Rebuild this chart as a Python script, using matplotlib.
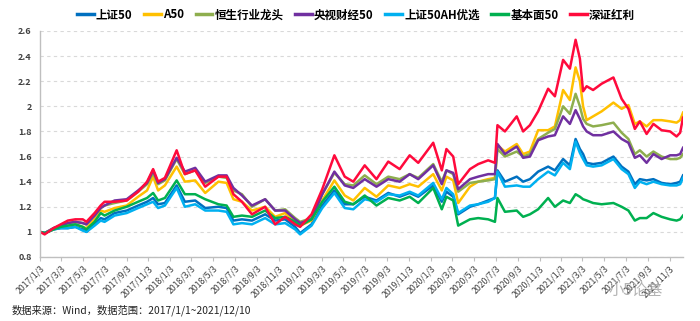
import datetime as dt
import matplotlib
matplotlib.use("Agg")
import matplotlib.pyplot as plt
from matplotlib.ticker import FuncFormatter, MultipleLocator

plt.rcParams['font.family'] = ['Noto Sans CJK SC', 'DejaVu Sans']

dates = [
    "2017-01-03", "2017-01-16", "2017-02-10", "2017-03-02", "2017-03-22", "2017-04-12",
    "2017-05-03", "2017-05-13", "2017-06-05", "2017-06-22", "2017-07-03", "2017-07-31",
    "2017-09-03", "2017-10-05", "2017-10-30", "2017-11-16", "2017-11-30", "2017-12-19",
    "2018-01-21", "2018-02-13", "2018-03-14", "2018-04-11", "2018-05-18", "2018-06-10",
    "2018-06-29", "2018-07-23", "2018-08-20", "2018-09-26", "2018-10-24", "2018-11-21",
    "2018-12-19", "2019-01-02", "2019-02-03", "2019-03-05", "2019-04-08", "2019-05-07",
    "2019-05-31", "2019-07-02", "2019-08-04", "2019-09-06", "2019-10-08", "2019-11-05",
    "2019-11-29", "2020-01-10", "2020-02-03", "2020-02-16", "2020-03-06", "2020-03-20",
    "2020-04-22", "2020-05-15", "2020-06-12", "2020-07-01", "2020-07-08", "2020-07-29",
    "2020-08-31", "2020-09-18", "2020-10-07", "2020-10-30", "2020-11-27", "2020-12-16",
    "2021-01-08", "2021-01-27", "2021-02-12", "2021-02-24", "2021-03-05", "2021-03-15",
    "2021-04-02", "2021-04-26", "2021-05-29", "2021-06-21", "2021-07-10", "2021-07-28",
    "2021-08-11", "2021-08-30", "2021-09-18", "2021-10-11", "2021-11-04", "2021-11-22",
    "2021-12-02", "2021-12-10",
]

sz50 = [1.00, 0.99, 1.02, 1.03, 1.03, 1.04, 1.02, 1.00, 1.06, 1.11, 1.10, 1.15,
        1.17, 1.21, 1.24, 1.27, 1.22, 1.23, 1.37, 1.24, 1.25, 1.19, 1.20, 1.19,
        1.09, 1.10, 1.09, 1.14, 1.09, 1.10, 1.04, 0.99, 1.06, 1.21, 1.33, 1.22,
        1.22, 1.28, 1.25, 1.31, 1.28, 1.31, 1.28, 1.37, 1.24, 1.32, 1.28, 1.14,
        1.20, 1.22, 1.25, 1.27, 1.49, 1.40, 1.44, 1.40, 1.42, 1.48, 1.52, 1.49,
        1.58, 1.53, 1.74, 1.66, 1.62, 1.55, 1.54, 1.55, 1.60, 1.52, 1.48, 1.38,
        1.42, 1.41, 1.42, 1.39, 1.38, 1.39, 1.40, 1.45]
a50 = [1.00, 0.99, 1.02, 1.04, 1.05, 1.06, 1.04, 1.03, 1.10, 1.17, 1.16, 1.19,
       1.21, 1.28, 1.33, 1.44, 1.33, 1.37, 1.52, 1.40, 1.41, 1.31, 1.40, 1.39,
       1.26, 1.24, 1.17, 1.20, 1.12, 1.15, 1.08, 1.05, 1.09, 1.25, 1.41, 1.29,
       1.25, 1.35, 1.28, 1.37, 1.35, 1.38, 1.36, 1.46, 1.33, 1.44, 1.41, 1.23,
       1.36, 1.40, 1.42, 1.43, 1.69, 1.64, 1.70, 1.62, 1.64, 1.81, 1.81, 1.84,
       2.13, 2.05, 2.31, 2.20, 2.00, 1.89, 1.92, 1.96, 2.03, 1.98, 2.01, 1.86,
       1.88, 1.84, 1.89, 1.89, 1.88, 1.87, 1.89, 1.95]
hs_leader = [1.00, 0.99, 1.03, 1.05, 1.07, 1.08, 1.07, 1.06, 1.13, 1.19, 1.21, 1.23,
             1.25, 1.32, 1.38, 1.47, 1.38, 1.41, 1.58, 1.46, 1.49, 1.39, 1.44, 1.43,
             1.33, 1.30, 1.20, 1.26, 1.17, 1.18, 1.11, 1.08, 1.11, 1.30, 1.47, 1.38,
             1.37, 1.45, 1.38, 1.44, 1.42, 1.46, 1.43, 1.54, 1.40, 1.49, 1.46, 1.32,
             1.39, 1.40, 1.41, 1.42, 1.66, 1.60, 1.64, 1.60, 1.62, 1.74, 1.79, 1.82,
             2.00, 1.94, 2.10, 2.00, 1.90, 1.86, 1.84, 1.85, 1.87, 1.79, 1.74, 1.62,
             1.65, 1.60, 1.64, 1.60, 1.58, 1.58, 1.59, 1.62]
cctv50 = [1.00, 0.99, 1.03, 1.05, 1.07, 1.08, 1.07, 1.06, 1.13, 1.19, 1.21, 1.25,
          1.26, 1.33, 1.39, 1.49, 1.39, 1.42, 1.59, 1.48, 1.51, 1.40, 1.45, 1.45,
          1.35, 1.29, 1.21, 1.26, 1.17, 1.17, 1.10, 1.07, 1.10, 1.30, 1.48, 1.37,
          1.35, 1.42, 1.36, 1.42, 1.40, 1.46, 1.42, 1.53, 1.38, 1.49, 1.47, 1.34,
          1.42, 1.44, 1.46, 1.46, 1.70, 1.62, 1.68, 1.59, 1.60, 1.73, 1.76, 1.77,
          1.92, 1.86, 1.97, 1.90, 1.84, 1.80, 1.77, 1.77, 1.80, 1.74, 1.71, 1.59,
          1.61, 1.55, 1.62, 1.58, 1.61, 1.61, 1.62, 1.67]
sz50ah = [1.00, 0.99, 1.02, 1.03, 1.03, 1.04, 1.01, 1.00, 1.05, 1.09, 1.08, 1.13,
          1.15, 1.19, 1.22, 1.24, 1.19, 1.21, 1.35, 1.20, 1.22, 1.17, 1.17, 1.16,
          1.06, 1.07, 1.06, 1.11, 1.06, 1.07, 1.02, 0.98, 1.05, 1.19, 1.31, 1.19,
          1.18, 1.26, 1.24, 1.30, 1.29, 1.32, 1.29, 1.39, 1.26, 1.35, 1.30, 1.15,
          1.21, 1.22, 1.24, 1.27, 1.48, 1.36, 1.37, 1.36, 1.36, 1.42, 1.48, 1.45,
          1.55, 1.50, 1.72, 1.63, 1.58, 1.53, 1.52, 1.53, 1.58, 1.50, 1.46, 1.35,
          1.40, 1.38, 1.40, 1.38, 1.37, 1.37, 1.38, 1.43]
fundamental50 = [1.00, 0.99, 1.02, 1.04, 1.05, 1.06, 1.04, 1.02, 1.08, 1.15, 1.13, 1.17,
                 1.20, 1.24, 1.27, 1.31, 1.25, 1.27, 1.41, 1.30, 1.30, 1.26, 1.22, 1.21,
                 1.12, 1.13, 1.12, 1.17, 1.11, 1.12, 1.08, 1.05, 1.10, 1.24, 1.36, 1.24,
                 1.22, 1.29, 1.21, 1.27, 1.25, 1.28, 1.23, 1.35, 1.18, 1.28, 1.25, 1.05,
                 1.10, 1.11, 1.10, 1.08, 1.27, 1.16, 1.17, 1.12, 1.14, 1.18, 1.27, 1.20,
                 1.25, 1.23, 1.30, 1.28, 1.26, 1.25, 1.23, 1.22, 1.23, 1.20, 1.17, 1.09,
                 1.11, 1.11, 1.15, 1.12, 1.10, 1.09, 1.10, 1.13]
sz_dividend = [1.00, 0.98, 1.03, 1.06, 1.09, 1.10, 1.10, 1.08, 1.15, 1.21, 1.24, 1.24,
               1.25, 1.32, 1.40, 1.50, 1.40, 1.43, 1.65, 1.46, 1.49, 1.36, 1.44, 1.44,
               1.30, 1.24, 1.14, 1.20, 1.06, 1.12, 1.06, 1.04, 1.14, 1.34, 1.61, 1.44,
               1.40, 1.53, 1.42, 1.56, 1.50, 1.61, 1.55, 1.71, 1.49, 1.66, 1.60, 1.38,
               1.50, 1.54, 1.57, 1.55, 1.85, 1.80, 1.92, 1.80, 1.85, 1.96, 2.14, 2.08,
               2.37, 2.30, 2.53, 2.38, 2.12, 2.16, 2.13, 2.18, 2.23, 2.06, 1.98, 1.82,
               1.88, 1.78, 1.86, 1.81, 1.80, 1.76, 1.79, 1.91]

series_names = ["上证50", "A50", "恒生行业龙头", "央视财经50", "上证50AH优选", "基本面50", "深证红利"]
series_values = [sz50, a50, hs_leader, cctv50, sz50ah, fundamental50, sz_dividend]
series_colors = ["#0070C0", "#FFC000", "#8EAE4E", "#7030A0", "#00B0F0", "#00B050", "#FF0A3C"]

tick_dates = ["2017-01-03", "2017-03-03", "2017-05-03", "2017-07-03", "2017-09-03", "2017-11-03",
              "2018-01-03", "2018-03-03", "2018-05-03", "2018-07-03", "2018-09-03", "2018-11-03",
              "2019-01-03", "2019-03-03", "2019-05-03", "2019-07-03", "2019-09-03", "2019-11-03",
              "2020-01-03", "2020-03-03", "2020-05-03", "2020-07-03", "2020-09-03", "2020-11-03",
              "2021-01-03", "2021-03-03", "2021-05-03", "2021-07-03", "2021-09-03", "2021-11-03"]

x = [dt.datetime.strptime(d, "%Y-%m-%d") for d in dates]
xt = [dt.datetime.strptime(d, "%Y-%m-%d") for d in tick_dates]
xt_labels = [f"{d.year}/{d.month}/{d.day}" for d in xt]

fig = plt.figure(figsize=(7.0, 3.21), dpi=100)
ax = fig.add_axes([40/700, 1-257/321, 643/700, 226/321])

for name, vals, col in zip(series_names, series_values, series_colors):
    ax.plot(x, vals, color=col, lw=1.8, label=name, solid_joinstyle='round')

ax.set_ylim(0.8, 2.6)
ax.yaxis.set_major_locator(MultipleLocator(0.2))
ax.yaxis.set_major_formatter(FuncFormatter(lambda v, p: f"{v:.1f}".rstrip('0').rstrip('.')))
ax.set_xlim(dt.datetime(2017, 1, 3), dt.datetime(2021, 12, 10))
ax.set_xticks(xt)
ax.set_xticklabels(xt_labels, rotation=45, ha='right', rotation_mode='anchor',
                   fontsize=6.3, color='#404040')
ax.tick_params(axis='x', length=3, color='#BFBFBF', pad=2)
ax.tick_params(axis='y', length=0, labelsize=6.5, labelcolor='#404040', pad=6)
for lab in ax.get_yticklabels():
    lab.set_fontweight('bold')

ax.grid(axis='y', color='#D9D9D9', ls=(0, (3, 3)), lw=0.8)
ax.set_axisbelow(True)
for s in ['top', 'right']:
    ax.spines[s].set_visible(False)
ax.spines['left'].set_color('#BFBFBF')
ax.spines['bottom'].set_color('#BFBFBF')
ax.spines['left'].set_linewidth(1.0)
ax.spines['bottom'].set_linewidth(1.0)

leg = fig.legend(*ax.get_legend_handles_labels(), loc='center', ncol=7,
                 bbox_to_anchor=(356/700, 1-15/321), frameon=False,
                 prop={'size': 8.3, 'weight': 'bold'}, handlelength=1.45,
                 handletextpad=0.2, columnspacing=1.0)
for h in leg.legend_handles:
    h.set_linewidth(2.5)

fig.text(12/700, 1-310/321, "数据来源：Wind，数据范围：2017/1/1~2021/12/10",
         fontsize=7.4, color='#222222', va='center', ha='left')
fig.text(608/700, 1-290/321, "小5论基", fontsize=11, color='#A0A0A0', alpha=0.8,
         va='center', ha='left')

fig.savefig("out.png", dpi=100)
